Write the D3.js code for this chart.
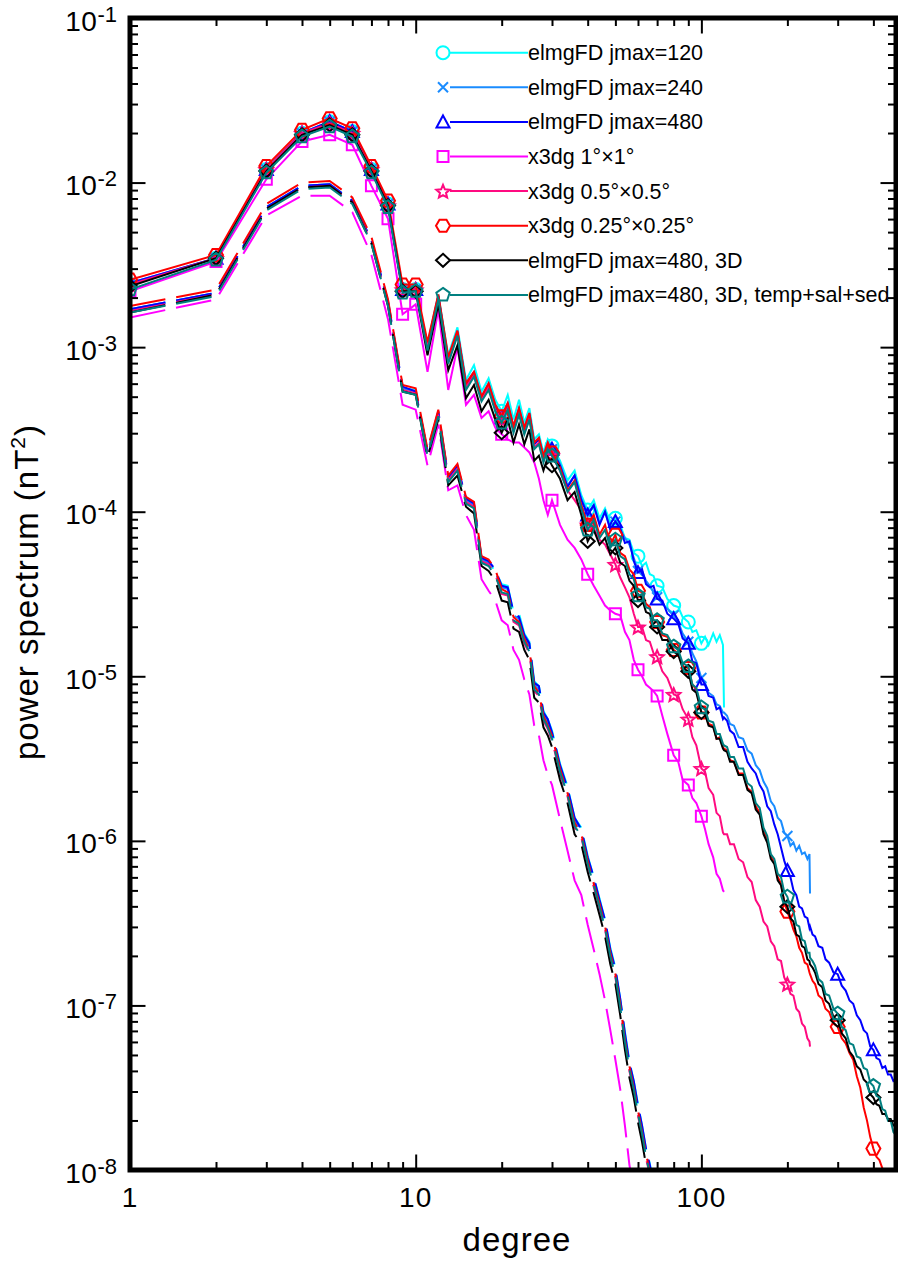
<!DOCTYPE html>
<html><head><meta charset="utf-8">
<script src="https://cdn.jsdelivr.net/npm/d3@7"></script>
<style>
body{margin:0;background:#fff}
svg{display:block}
text{font-family:"Liberation Sans",Arial,Helvetica,sans-serif;fill:#000}
</style>
</head><body>
<svg id="chart" width="898" height="1262"></svg>
<script>
// ---------------- DATA ----------------
// spherical-harmonic degrees at which the spectra are sampled
const degSolid = [1,2,3,4,5,6,7,8,9,10,11,12,13,14,15,16,17,18,19,20,21,22,23,24,25,26,27,28,29,30,
  32,34,36,38,40,42,44,46,48,50,
  52,54,56,58,60,62,64,66,68,70,73,76,80,83,86,90,93,96,100,
  103,106,110,113,116,119,120,
  123,126,130,135,140,145,150,155,160,165,170,175,180,185,190,195,200,
  205,210,215,220,225,230,235,239,240,
  245,250,257,265,272,280,290,300,310,320,330,340,350,360,370,380,390,400,410,420,430,440,450,460,470,480];
const degDashed = [1,2,3,4,5,6,7,8,9,10,11,12,13,14,15,16,17,18,19,20,21,22,23,24,25,26,27,28,29,30,
  32,34,36,38,40,42,44,46,48,50,52,54,56,58,60,62,64,66,68,70,72];
const markerDegrees = [1,2,3,4,5,6,7,8,9,10,20,30,40,50,60,70,80,90,100,200,300,400];

const seriesNames = ["elmgFD jmax=120","elmgFD jmax=240","elmgFD jmax=480","x3dg 1°×1°",
  "x3dg 0.5°×0.5°","x3dg 0.25°×0.25°","elmgFD jmax=480, 3D","elmgFD jmax=480, 3D, temp+sal+sed"];
const seriesColors = ["#00ffff","#1a8cff","#0000ff","#ff00ff","#ff0a80","#ff0000","#000000","#008080"];
const seriesMarkers = ["circle","cross","triangle","square","star","hexagon","diamond","pentagon"];

// log10 of power spectrum (nT^2), solid curves
const solid120 = [-2.62,-2.46,-1.92,-1.70,-1.63,-1.69,-1.92,-2.13,-2.65,-2.65,
  -2.98,-2.68,-3.05,-2.88,-3.20,-3.11,-3.27,-3.19,-3.32,-3.39,
  -3.29,-3.44,-3.32,-3.46,-3.37,-3.56,-3.53,-3.64,-3.56,-3.60,
  -3.69,-3.81,-3.75,-3.90,-3.99,-3.93,-4.04,-3.98,-4.06,-4.04,
  -4.08,-4.16,-4.17,-4.25,-4.27,-4.33,-4.31,-4.38,-4.39,-4.45,-4.46,-4.53,-4.57,-4.58,-4.64,-4.67,-4.73,-4.72,-4.80,
  -4.76,-4.81,-4.74,-4.79,-4.75,-4.81,-5.19];
const solid240 = [-2.61,-2.46,-1.92,-1.70,-1.63,-1.69,-1.92,-2.13,-2.65,-2.65,
  -2.99,-2.69,-3.07,-2.90,-3.22,-3.15,-3.30,-3.22,-3.35,-3.42,
  -3.34,-3.48,-3.37,-3.49,-3.40,-3.58,-3.55,-3.66,-3.58,-3.62,
  -3.71,-3.84,-3.78,-3.92,-4.01,-3.96,-4.07,-4.00,-4.10,-4.06,
  -4.11,-4.16,-4.20,-4.28,-4.36,-4.36,-4.42,-4.45,-4.49,-4.52,-4.56,-4.59,-4.63,-4.67,-4.74,-4.79,-4.86,-4.91,-5.01,
  -5.04,-5.10,-5.12,-5.17,-5.18,-5.22,-5.22,
  -5.24,-5.29,-5.30,-5.37,-5.38,-5.45,-5.47,-5.54,-5.57,-5.64,-5.68,-5.76,-5.79,-5.86,-5.88,-5.95,-5.97,
  -6.03,-6.01,-6.06,-6.03,-6.08,-6.07,-6.11,-6.08,-6.32];
const solid480 = [-2.61,-2.46,-1.92,-1.70,-1.63,-1.69,-1.92,-2.13,-2.65,-2.65,
  -2.99,-2.69,-3.08,-2.91,-3.23,-3.16,-3.31,-3.23,-3.36,-3.43,
  -3.35,-3.49,-3.38,-3.50,-3.41,-3.59,-3.56,-3.67,-3.59,-3.62,
  -3.72,-3.85,-3.78,-3.93,-4.02,-3.96,-4.08,-4.00,-4.11,-4.06,
  -4.10,-4.19,-4.18,-4.30,-4.37,-4.35,-4.44,-4.46,-4.45,-4.53,-4.54,-4.62,-4.65,-4.68,-4.77,-4.80,-4.91,-4.92,-5.05,
  -5.05,-5.12,-5.13,-5.20,-5.19,-5.26,-5.25,
  -5.27,-5.33,-5.35,-5.43,-5.43,-5.52,-5.56,-5.59,-5.66,-5.70,-5.79,-5.82,-5.90,-5.96,-6.04,-6.12,-6.18,
  -6.22,-6.30,-6.33,-6.40,-6.41,-6.46,-6.47,-6.53,-6.52,
  -6.57,-6.58,-6.64,-6.65,-6.72,-6.74,-6.80,-6.81,-6.88,-6.91,-6.97,-6.99,-7.06,-7.09,-7.15,-7.17,-7.25,-7.27,-7.32,-7.33,-7.38,-7.37,-7.42,-7.42,-7.46,-7.45];
const solidX1 = [-2.66,-2.48,-1.98,-1.75,-1.71,-1.77,-2.02,-2.22,-2.80,-2.74,
  -3.15,-2.77,-3.26,-3.00,-3.35,-3.29,-3.43,-3.39,-3.49,-3.53,
  -3.56,-3.58,-3.58,-3.61,-3.64,-3.70,-3.80,-3.93,-4.02,-3.93,
  -4.08,-4.17,-4.22,-4.29,-4.38,-4.45,-4.51,-4.57,-4.60,-4.62,
  -4.63,-4.73,-4.78,-4.90,-4.96,-5.00,-5.05,-5.07,-5.09,-5.12,-5.24,-5.35,-5.48,-5.52,-5.63,-5.66,-5.74,-5.77,-5.85,
  -5.93,-6.02,-6.10,-6.20,-6.23,-6.30,-6.31];
const solidX05 = [-2.62,-2.46,-1.92,-1.70,-1.64,-1.70,-1.92,-2.14,-2.65,-2.65,
  -3.00,-2.70,-3.09,-2.92,-3.24,-3.17,-3.32,-3.24,-3.38,-3.44,
  -3.37,-3.50,-3.40,-3.52,-3.43,-3.61,-3.58,-3.69,-3.61,-3.66,
  -3.75,-3.87,-3.93,-3.99,-4.08,-4.10,-4.17,-4.20,-4.26,-4.32,
  -4.40,-4.46,-4.52,-4.62,-4.70,-4.70,-4.78,-4.79,-4.86,-4.88,-4.97,-5.01,-5.11,-5.12,-5.20,-5.26,-5.37,-5.42,-5.56,
  -5.58,-5.68,-5.72,-5.83,-5.85,-5.95,-5.96,
  -5.96,-6.02,-6.02,-6.11,-6.13,-6.22,-6.25,-6.36,-6.40,-6.49,-6.52,-6.61,-6.64,-6.72,-6.73,-6.83,-6.87,
  -6.93,-6.94,-7.02,-7.04,-7.11,-7.13,-7.20,-7.22,-7.25];
const solidX025 = [-2.59,-2.44,-1.90,-1.68,-1.61,-1.67,-1.90,-2.11,-2.62,-2.62,
  -2.97,-2.68,-3.06,-2.90,-3.22,-3.15,-3.30,-3.22,-3.35,-3.42,
  -3.34,-3.48,-3.37,-3.49,-3.40,-3.58,-3.55,-3.66,-3.58,-3.64,
  -3.73,-3.87,-3.81,-3.96,-4.08,-4.02,-4.14,-4.08,-4.20,-4.14,
  -4.25,-4.27,-4.35,-4.38,-4.48,-4.49,-4.56,-4.58,-4.66,-4.67,-4.75,-4.76,-4.84,-4.86,-4.94,-4.95,-5.05,-5.08,-5.22,
  -5.22,-5.29,-5.30,-5.38,-5.37,-5.43,-5.44,
  -5.45,-5.51,-5.52,-5.59,-5.59,-5.68,-5.70,-5.79,-5.83,-5.94,-5.99,-6.09,-6.13,-6.22,-6.26,-6.37,-6.43,
  -6.48,-6.54,-6.58,-6.65,-6.68,-6.74,-6.75,-6.80,-6.81,
  -6.85,-6.87,-6.94,-6.96,-7.02,-7.04,-7.11,-7.13,-7.20,-7.23,-7.29,-7.33,-7.43,-7.50,-7.62,-7.70,-7.80,-7.87,-7.92,-7.94,-7.99,-8.01,-8.06,-8.09,-8.14,-8.17];
const solid3D = [-2.63,-2.46,-1.93,-1.71,-1.65,-1.71,-1.93,-2.14,-2.66,-2.66,
  -3.05,-2.74,-3.14,-2.99,-3.31,-3.23,-3.39,-3.32,-3.44,-3.52,
  -3.44,-3.58,-3.47,-3.59,-3.50,-3.69,-3.66,-3.75,-3.67,-3.72,
  -3.80,-3.93,-3.88,-4.02,-4.18,-4.11,-4.20,-4.16,-4.26,-4.22,
  -4.31,-4.33,-4.42,-4.45,-4.54,-4.53,-4.61,-4.62,-4.70,-4.70,-4.78,-4.78,-4.85,-4.87,-4.95,-4.97,-5.08,-5.10,-5.22,
  -5.23,-5.30,-5.31,-5.38,-5.38,-5.44,-5.45,
  -5.46,-5.52,-5.52,-5.60,-5.60,-5.69,-5.71,-5.81,-5.84,-5.96,-6.01,-6.11,-6.14,-6.24,-6.27,-6.37,-6.40,
  -6.47,-6.49,-6.57,-6.58,-6.64,-6.65,-6.72,-6.73,-6.75,
  -6.77,-6.80,-6.87,-6.89,-6.97,-6.99,-7.07,-7.09,-7.17,-7.20,-7.28,-7.31,-7.37,-7.39,-7.45,-7.47,-7.54,-7.56,-7.60,-7.61,-7.66,-7.66,-7.69,-7.69,-7.73,-7.73];
const solid3Dtss = [-2.65,-2.47,-1.94,-1.72,-1.66,-1.72,-1.94,-2.15,-2.67,-2.66,
  -3.02,-2.71,-3.10,-2.93,-3.26,-3.18,-3.33,-3.26,-3.39,-3.46,
  -3.38,-3.52,-3.41,-3.53,-3.44,-3.62,-3.59,-3.70,-3.62,-3.66,
  -3.75,-3.88,-3.82,-3.98,-4.11,-4.05,-4.16,-4.11,-4.22,-4.17,
  -4.27,-4.29,-4.38,-4.41,-4.51,-4.50,-4.58,-4.59,-4.66,-4.66,-4.74,-4.75,-4.82,-4.84,-4.92,-4.94,-5.05,-5.07,-5.19,
  -5.20,-5.27,-5.28,-5.35,-5.35,-5.41,-5.42,
  -5.43,-5.49,-5.49,-5.56,-5.56,-5.65,-5.67,-5.77,-5.80,-5.92,-5.97,-6.08,-6.11,-6.20,-6.22,-6.31,-6.34,
  -6.41,-6.43,-6.51,-6.52,-6.60,-6.61,-6.68,-6.68,-6.71,
  -6.73,-6.76,-6.84,-6.86,-6.93,-6.94,-7.02,-7.05,-7.13,-7.15,-7.23,-7.24,-7.31,-7.32,-7.38,-7.39,-7.47,-7.49,-7.55,-7.56,-7.63,-7.64,-7.70,-7.70,-7.77,-7.79];

// log10 of power spectrum (nT^2), dashed curves
const dashed120 = [-2.77,-2.67,-2.15,-2.02,-2.01,-2.11,-2.35,-2.73,-3.25,-3.26,-3.64,-3.40,-3.79,-3.73,-3.92,-3.96,-4.28,-4.31,-4.36,
  -4.44,-4.45,-4.61,-4.62,-4.74,-4.79,-5.03,-5.06,-5.21,-5.26,-5.33,
  -5.53,-5.67,-5.86,-5.92,-6.09,-6.22,-6.35,-6.48,-6.65,-6.77,-6.96,-7.16,-7.34,-7.46,-7.60,-7.73,-7.87,-7.96,-8.09,-8.19,-8.32];
const dashed240 = [-2.77,-2.67,-2.15,-2.02,-2.01,-2.11,-2.35,-2.73,-3.25,-3.27,-3.64,-3.40,-3.80,-3.73,-3.93,-3.96,-4.29,-4.31,-4.37,
  -4.46,-4.47,-4.63,-4.65,-4.76,-4.82,-5.05,-5.08,-5.23,-5.28,-5.35,
  -5.55,-5.69,-5.88,-5.94,-6.11,-6.24,-6.37,-6.50,-6.67,-6.79,-6.98,-7.19,-7.36,-7.48,-7.63,-7.75,-7.89,-7.99,-8.11,-8.22,-8.34];
const dashed480 = [-2.77,-2.67,-2.15,-2.02,-2.01,-2.11,-2.35,-2.72,-3.24,-3.27,-3.63,-3.39,-3.79,-3.72,-3.92,-3.95,-4.28,-4.30,-4.35,
  -4.45,-4.46,-4.61,-4.64,-4.75,-4.80,-5.04,-5.06,-5.22,-5.26,-5.34,
  -5.54,-5.68,-5.86,-5.93,-6.10,-6.22,-6.36,-6.48,-6.66,-6.78,-6.96,-7.17,-7.35,-7.46,-7.61,-7.73,-7.87,-7.97,-8.09,-8.20,-8.32];
const dashedX1 = [-2.82,-2.71,-2.20,-2.08,-2.08,-2.18,-2.44,-2.83,-3.35,-3.38,-3.72,-3.47,-3.87,-3.84,-4.02,-4.11,-4.41,-4.48,-4.54,
  -4.66,-4.69,-4.84,-4.90,-5.02,-5.11,-5.30,-5.36,-5.51,-5.60,-5.66,
  -5.87,-6.06,-6.24,-6.33,-6.51,-6.66,-6.81,-6.97,-7.15,-7.33,-7.51,-7.73,-7.97,-8.12,-8.30];
const dashedX05 = [-2.78,-2.68,-2.16,-2.03,-2.02,-2.12,-2.36,-2.74,-3.26,-3.28,-3.65,-3.41,-3.81,-3.74,-3.94,-3.97,-4.30,-4.32,-4.38,
  -4.50,-4.51,-4.67,-4.69,-4.80,-4.86,-5.09,-5.12,-5.27,-5.32,-5.39,
  -5.59,-5.73,-5.92,-5.98,-6.15,-6.28,-6.41,-6.54,-6.71,-6.83,-7.02,-7.23,-7.40,-7.52,-7.67,-7.79,-7.93,-8.03,-8.15,-8.26,-8.38];
const dashedX025 = [-2.75,-2.65,-2.13,-2.00,-1.99,-2.09,-2.33,-2.71,-3.23,-3.25,-3.62,-3.38,-3.78,-3.71,-3.91,-3.94,-4.27,-4.29,-4.35,
  -4.47,-4.49,-4.64,-4.67,-4.77,-4.84,-5.06,-5.10,-5.24,-5.30,-5.36,
  -5.56,-5.71,-5.89,-5.96,-6.12,-6.26,-6.38,-6.52,-6.68,-6.81,-6.99,-7.21,-7.37,-7.50,-7.64,-7.77,-7.90,-8.01,-8.12,-8.24,-8.35];
const dashed3D = [-2.79,-2.68,-2.16,-2.03,-2.02,-2.12,-2.37,-2.75,-3.27,-3.29,-3.67,-3.44,-3.84,-3.78,-3.97,-4.01,-4.33,-4.36,-4.42,
  -4.54,-4.55,-4.71,-4.73,-4.84,-4.90,-5.13,-5.16,-5.31,-5.36,-5.43,
  -5.63,-5.77,-5.96,-6.02,-6.19,-6.32,-6.45,-6.58,-6.75,-6.87,-7.06,-7.27,-7.44,-7.56,-7.71,-7.83,-7.97,-8.07,-8.19,-8.30,-8.42];
const dashed3Dtss = [-2.79,-2.69,-2.17,-2.04,-2.03,-2.13,-2.37,-2.75,-3.27,-3.29,-3.66,-3.42,-3.82,-3.75,-3.95,-3.98,-4.31,-4.33,-4.39,
  -4.49,-4.50,-4.66,-4.68,-4.79,-4.85,-5.08,-5.11,-5.26,-5.31,-5.38,
  -5.58,-5.72,-5.91,-5.97,-6.14,-6.27,-6.40,-6.53,-6.70,-6.82,-7.01,-7.22,-7.39,-7.51,-7.66,-7.78,-7.92,-8.02,-8.14,-8.25,-8.37];

const solidLogPower = [solid120, solid240, solid480, solidX1, solidX05, solidX025, solid3D, solid3Dtss];
const dashedLogPower = [dashed120, dashed240, dashed480, dashedX1, dashedX05, dashedX025, dashed3D, dashed3Dtss];

const xTickLabels = [1, 10, 100];
const yTickExponents = [-1,-2,-3,-4,-5,-6,-7,-8];

// ---------------- CHART ----------------
const svg = d3.select("#chart");
const L = 130, R = 896, T = 18, B = 1170;
const x = d3.scaleLog().domain([1, 480]).range([L, R]);
const y = d3.scaleLog().domain([1e-8, 1e-1]).range([B, T]);

svg.append("rect").attr("width", 898).attr("height", 1262).attr("fill", "#fff");
svg.append("defs").append("clipPath").attr("id", "plotClip")
  .append("rect").attr("x", L).attr("y", T).attr("width", R - L).attr("height", B - T);

function toPoints(degs, logs) {
  const n = Math.min(degs.length, logs.length);
  const out = [];
  for (let i = 0; i < n; i++) out.push({deg: degs[i], val: Math.pow(10, logs[i])});
  return out;
}
const series = seriesNames.map((name, i) => ({
  name, color: seriesColors[i], marker: seriesMarkers[i],
  solid: toPoints(degSolid, solidLogPower[i]),
  dashed: toPoints(degDashed, dashedLogPower[i])
}));

function poly(n, r, rot) {
  const pts = [];
  for (let k = 0; k < n; k++) {
    const a = rot + k * 2 * Math.PI / n;
    pts.push([r * Math.cos(a), r * Math.sin(a)]);
  }
  return "M" + pts.map(p => p[0].toFixed(2) + "," + p[1].toFixed(2)).join("L") + "Z";
}
function markerPath(type) {
  switch (type) {
    case "circle": return "M6.5,0A6.5,6.5 0 1,1 -6.5,0A6.5,6.5 0 1,1 6.5,0Z";
    case "cross": return "M-5,-5L5,5M-5,5L5,-5";
    case "triangle": return "M0,-6.5L6.5,5.5L-6.5,5.5Z";
    case "square": return "M-5.5,-5.5H5.5V5.5H-5.5Z";
    case "star": {
      const pts = [];
      for (let k = 0; k < 10; k++) {
        const r = k % 2 === 0 ? 7 : 3.2;
        const a = -Math.PI / 2 + k * Math.PI / 5;
        pts.push([r * Math.cos(a), r * Math.sin(a) + 0.8]);
      }
      return "M" + pts.map(p => p[0].toFixed(2) + "," + p[1].toFixed(2)).join("L") + "Z";
    }
    case "hexagon": return poly(6, 7, 0);
    case "diamond": return "M0,-6.5L7,0L0,6.5L-7,0Z";
    case "pentagon": return poly(5, 7, -Math.PI / 2);
  }
}

const plot = svg.append("g").attr("clip-path", "url(#plotClip)");
const line = d3.line().x(d => x(d.deg)).y(d => y(d.val));

series.forEach(s => {
  plot.append("path").datum(s.dashed)
    .attr("fill", "none").attr("stroke", s.color).attr("stroke-width", 2)
    .attr("stroke-dasharray", "36,11").attr("d", line);
});
series.forEach(s => {
  plot.append("path").datum(s.solid)
    .attr("fill", "none").attr("stroke", s.color).attr("stroke-width", 2)
    .attr("stroke-linejoin", "miter").attr("d", line);
  const mk = s.solid.filter(d => markerDegrees.includes(d.deg));
  plot.selectAll(null).data(mk).enter().append("path")
    .attr("d", markerPath(s.marker))
    .attr("transform", d => `translate(${x(d.deg)},${y(d.val)})`)
    .attr("fill", "none").attr("stroke", s.color).attr("stroke-width", 2);
});

// ---------------- AXES ----------------
const xMajor = [1, 10, 100];
const xMinor = [];
[1, 10, 100].forEach(dec => { for (let m = 2; m <= 9; m++) if (m * dec <= 480) xMinor.push(m * dec); });
const yMajor = yTickExponents.map(e => Math.pow(10, e));
const yMinor = [];
for (let e = -8; e < -1; e++) for (let m = 2; m <= 9; m++) yMinor.push(m * Math.pow(10, e));

function styleAxis(g) {
  g.select(".domain").remove();
  g.selectAll("line").attr("stroke", "#000").attr("stroke-width", 2);
  g.selectAll("text").remove();
}
const MAJ = 15.5, MIN = 8;
svg.append("g").attr("transform", `translate(0,${B})`).call(d3.axisBottom(x).tickValues(xMajor).tickSize(-MAJ)).call(styleAxis);
svg.append("g").attr("transform", `translate(0,${B})`).call(d3.axisBottom(x).tickValues(xMinor).tickSize(-MIN)).call(styleAxis);
svg.append("g").attr("transform", `translate(0,${T})`).call(d3.axisTop(x).tickValues(xMajor).tickSize(-MAJ)).call(styleAxis);
svg.append("g").attr("transform", `translate(0,${T})`).call(d3.axisTop(x).tickValues(xMinor).tickSize(-MIN)).call(styleAxis);
svg.append("g").attr("transform", `translate(${L},0)`).call(d3.axisLeft(y).tickValues(yMajor).tickSize(-MAJ)).call(styleAxis);
svg.append("g").attr("transform", `translate(${L},0)`).call(d3.axisLeft(y).tickValues(yMinor).tickSize(-MIN)).call(styleAxis);
svg.append("g").attr("transform", `translate(${R},0)`).call(d3.axisRight(y).tickValues(yMajor).tickSize(-MAJ)).call(styleAxis);
svg.append("g").attr("transform", `translate(${R},0)`).call(d3.axisRight(y).tickValues(yMinor).tickSize(-MIN)).call(styleAxis);

svg.append("rect").attr("x", L).attr("y", T).attr("width", R - L).attr("height", B - T)
  .attr("fill", "none").attr("stroke", "#000").attr("stroke-width", 5);

svg.selectAll(null).data(xTickLabels).enter().append("text")
  .attr("x", d => x(d)).attr("y", B + 37).attr("text-anchor", "middle")
  .attr("font-size", 28).attr("letter-spacing", 1).text(d => d);

yTickExponents.forEach(e => {
  const t = svg.append("text").attr("x", 117).attr("y", y(Math.pow(10, e)) + 12.5)
    .attr("text-anchor", "end");
  t.append("tspan").attr("font-size", 28).attr("letter-spacing", 0.5).text("10");
  t.append("tspan").attr("font-size", 22).attr("dy", -9).text(String(e));
});

svg.append("text").attr("x", 517).attr("y", 1251).attr("text-anchor", "middle")
  .attr("font-size", 33).attr("letter-spacing", 1).text("degree");
const yt = svg.append("text").attr("transform", "translate(38,592) rotate(-90)")
  .attr("text-anchor", "middle").attr("font-size", 33).attr("letter-spacing", 1);
yt.append("tspan").text("power spectrum (nT");
yt.append("tspan").attr("font-size", 21).attr("dy", -13).text("2");
yt.append("tspan").attr("dy", 13).text(")");

// ---------------- LEGEND ----------------
const lg = svg.append("g");
series.forEach((s, i) => {
  const cy = 52.7 + i * 34.6;
  lg.append("line").attr("x1", 450).attr("x2", 528).attr("y1", cy).attr("y2", cy)
    .attr("stroke", s.color).attr("stroke-width", 2);
  lg.append("path").attr("d", markerPath(s.marker)).attr("transform", `translate(443,${cy})`)
    .attr("fill", "none").attr("stroke", s.color).attr("stroke-width", 2);
  lg.append("text").attr("x", 528).attr("y", cy + 7.5).attr("font-size", 21.5).text(s.name);
});
</script>
</body></html>
